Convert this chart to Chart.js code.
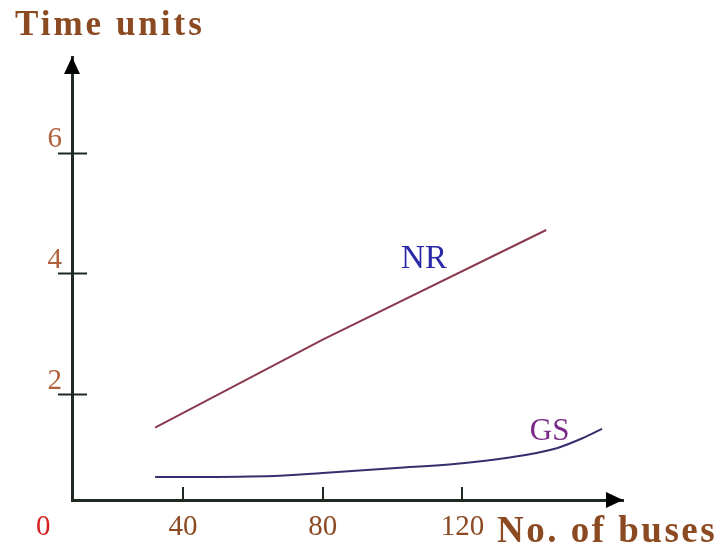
<!DOCTYPE html>
<html><head><meta charset="utf-8">
<script src="https://cdn.jsdelivr.net/npm/chart.js@4/dist/chart.umd.min.js"></script>
<style>html,body{margin:0;padding:0;background:#fff}canvas{display:block}</style>
</head><body>
<canvas id="c" width="721" height="546"></canvas>
<script>
// ---- data ----
const xTickValues = [0, 40, 80, 120];
const yTickValues = [2, 4, 6];
const nrX = [32, 80, 144];
const nrY = [1.44, 2.90, 4.72];
const gsX = [32, 66, 80, 101, 118.5, 133, 147, 154.6, 160];
const gsY = [0.62, 0.64, 0.69, 0.77, 0.84, 0.94, 1.10, 1.27, 1.42];
const seriesNames = ['NR', 'GS'];
const seriesLabelX = [109, 145];
const seriesLabelY = [4.24, 1.37];
const xTitle = 'No. of buses';
const yTitle = 'Time units';

const SERIF = '"Liberation Serif", "Times New Roman", serif';
const AXIS = '#1e2a22';
const BROWN = '#8b4a22';

const toPts = (xs, ys) => xs.map((x, i) => ({x: x, y: ys[i]}));

const decor = {
  id: 'decor',
  afterDraw(chart) {
    const ctx = chart.ctx, a = chart.chartArea;
    const xs = chart.scales.x, ys = chart.scales.y;
    ctx.save();
    // tick marks
    ctx.strokeStyle = AXIS; ctx.lineWidth = 2;
    yTickValues.forEach(v => {
      const p = Math.round(ys.getPixelForValue(v)) + 0.5;
      ctx.beginPath(); ctx.moveTo(a.left - 14, p); ctx.lineTo(a.left + 15, p); ctx.stroke();
    });
    xTickValues.filter(v => v > 0).forEach(v => {
      const p = Math.round(xs.getPixelForValue(v));
      ctx.beginPath(); ctx.moveTo(p, a.bottom - 13); ctx.lineTo(p, a.bottom); ctx.stroke();
    });
    // arrowheads
    ctx.fillStyle = '#000';
    ctx.beginPath();
    ctx.moveTo(a.left, a.top); ctx.lineTo(a.left - 8, a.top + 17); ctx.lineTo(a.left + 8, a.top + 17); ctx.closePath(); ctx.fill();
    ctx.beginPath();
    ctx.moveTo(a.right, a.bottom); ctx.lineTo(a.right - 17, a.bottom - 8); ctx.lineTo(a.right - 17, a.bottom + 8); ctx.closePath(); ctx.fill();
    // series labels
    ctx.textAlign = 'center'; ctx.textBaseline = 'middle';
    ctx.font = '33px ' + SERIF; ctx.fillStyle = '#2a2aa8';
    ctx.fillText(seriesNames[0], xs.getPixelForValue(seriesLabelX[0]), ys.getPixelForValue(seriesLabelY[0]));
    ctx.font = '31px ' + SERIF; ctx.fillStyle = '#7a2a88';
    ctx.fillText(seriesNames[1], xs.getPixelForValue(seriesLabelX[1]), ys.getPixelForValue(seriesLabelY[1]));
    // axis titles
    ctx.textAlign = 'left'; ctx.textBaseline = 'alphabetic';
    ctx.fillStyle = BROWN;
    ctx.font = 'bold 35px ' + SERIF;
    ctx.letterSpacing = '3px';
    ctx.fillText(yTitle, 15, 35);
    ctx.font = 'bold 37px ' + SERIF;
    ctx.letterSpacing = '2.5px';
    ctx.fillText(xTitle, 497, 542);
    ctx.restore();
  }
};

new Chart(document.getElementById('c'), {
  type: 'line',
  data: {
    datasets: [
      {label: seriesNames[0], data: toPts(nrX, nrY), borderColor: '#8a3a4e', borderWidth: 2, pointRadius: 0, tension: 0},
      {label: seriesNames[1], data: toPts(gsX, gsY), borderColor: '#34306e', borderWidth: 2, pointRadius: 0, cubicInterpolationMode: 'monotone'}
    ]
  },
  options: {
    responsive: false, animation: false, devicePixelRatio: 1,
    layout: {padding: {top: 57, right: 98, left: 0, bottom: 0}},
    plugins: {legend: {display: false}, tooltip: {enabled: false}},
    scales: {
      x: {
        type: 'linear', min: 8.2, max: 166,
        afterFit(s) { s.height = 46; },
        afterBuildTicks(s) { s.ticks = xTickValues.map(v => ({value: v})); },
        grid: {display: false, drawTicks: false},
        border: {display: true, color: AXIS, width: 3},
        ticks: {
          padding: 10, autoSkip: false, maxRotation: 0,
          font: {family: SERIF, size: 29},
          color: (c) => (c.tick && c.tick.value === 0) ? '#d42020' : BROWN
        }
      },
      y: {
        type: 'linear', min: 0.24, max: 7.59,
        afterFit(s) { s.width = 72; },
        afterBuildTicks(s) { s.ticks = yTickValues.map(v => ({value: v})); },
        grid: {display: false, drawTicks: false},
        border: {display: true, color: AXIS, width: 3},
        ticks: {
          padding: 10, labelOffset: -13,
          font: {family: SERIF, size: 29},
          color: '#b0603c'
        }
      }
    }
  },
  plugins: [decor]
});
</script>
</body></html>
